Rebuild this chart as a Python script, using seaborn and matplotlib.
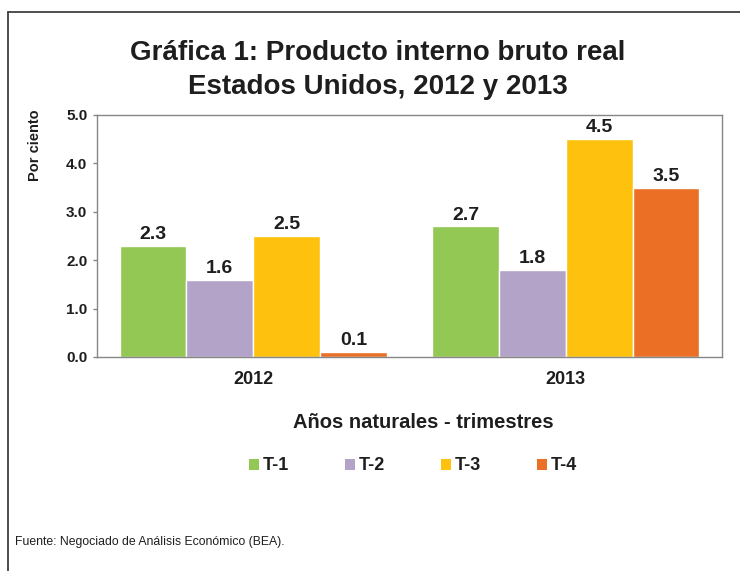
import pandas as pd
import matplotlib.pyplot as plt
import seaborn as sns
from matplotlib.lines import Line2D
from matplotlib.patches import Patch

years = ['2012', '2013']
quarters = ['T-1', 'T-2', 'T-3', 'T-4']
pib_2012 = [2.3, 1.6, 2.5, 0.1]
pib_2013 = [2.7, 1.8, 4.5, 3.5]
colores = ['#92C853', '#B3A3C8', '#FEC10E', '#EB7026']

df = pd.DataFrame({
    'anio': [years[0]] * 4 + [years[1]] * 4,
    'trimestre': quarters * 2,
    'valor': pib_2012 + pib_2013,
})

sns.set_style('white')
plt.rcParams['font.family'] = ['Liberation Sans', 'DejaVu Sans']
negro = '#1e1e1e'

fig = plt.figure(figsize=(7.4, 5.71), dpi=100)
ax = fig.add_axes([97 / 740, 1 - 357 / 571, 625 / 740, 242 / 571])

sns.barplot(data=df, x='anio', y='valor', hue='trimestre', order=years,
            hue_order=quarters, palette=colores, width=0.855, saturation=1,
            edgecolor='white', linewidth=1, legend=False, ax=ax)

for c in ax.containers:
    ax.bar_label(c, fmt='%.1f', padding=2, fontsize=14, fontweight='bold',
                 color=negro)

ax.set_ylim(0, 5)
ax.set_yticks([0, 1, 2, 3, 4, 5])
ax.set_yticklabels(['0.0', '1.0', '2.0', '3.0', '4.0', '5.0'],
                   fontsize=11, fontweight='bold', color=negro)
for lab in ax.get_xticklabels():
    lab.set_fontsize(13)
    lab.set_fontweight('bold')
    lab.set_color(negro)
ax.tick_params(axis='y', length=3, width=1, color='#868686', pad=4, left=True)
ax.tick_params(axis='x', length=0, pad=10)
for s in ax.spines.values():
    s.set_color('#868686')
    s.set_linewidth(1)

ax.set_xlabel('')
ax.set_ylabel('Por ciento', fontsize=10.5, fontweight='bold', color=negro)
ax.yaxis.set_label_coords(-0.088, 0.876)

fig.text(378 / 740, 1 - 53 / 571, 'Gráfica 1: Producto interno bruto real',
         ha='center', va='center', fontsize=20, fontweight='bold', color=negro)
fig.text(378 / 740, 1 - 87 / 571, 'Estados Unidos, 2012 y 2013',
         ha='center', va='center', fontsize=20, fontweight='bold', color=negro)

fig.text(423 / 740, 1 - 422 / 571, 'Años naturales - trimestres',
         ha='center', va='center', fontsize=14.5, fontweight='bold', color=negro)

handles = [Patch(facecolor=col, edgecolor='none', label=q)
           for q, col in zip(quarters, colores)]
leg = fig.legend(handles=handles, loc='center', ncol=4,
                 bbox_to_anchor=(413 / 740, 1 - 466 / 571), frameon=False,
                 handlelength=0.55, handleheight=0.55, handletextpad=0.2,
                 columnspacing=3.1, prop={'size': 13, 'weight': 'bold'})
for t in leg.get_texts():
    t.set_color(negro)

fig.text(15 / 740, 1 - 542 / 571, 'Fuente: Negociado de Análisis Económico (BEA).',
         ha='left', va='center', fontsize=8.8, color=negro,
         family=['Liberation Sans Narrow', 'Liberation Sans'])

# marco exterior
fig.add_artist(Line2D([8 / 740, 8 / 740], [0, 1 - 12 / 571],
                      transform=fig.transFigure, color='#404040', linewidth=1.3))
fig.add_artist(Line2D([8 / 740, 1], [1 - 12 / 571, 1 - 12 / 571],
                      transform=fig.transFigure, color='#404040', linewidth=1.3))

fig.savefig('out.png', dpi=100)
